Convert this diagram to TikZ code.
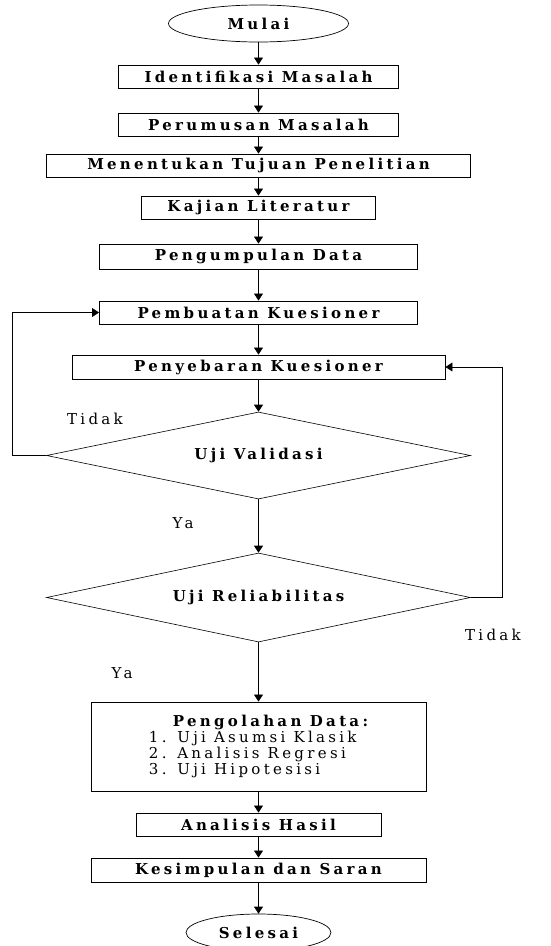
\documentclass[tikz,border=0pt]{standalone}
\usepackage{fontspec}
\setmainfont[LetterSpace=22]{DejaVu Serif}
\usetikzlibrary{arrows.meta}
\usetikzlibrary{shapes.geometric}

\tikzset{
 kotak/.style={draw, line width=0.9pt, inner sep=0pt, minimum height=23pt, font=\fontsize{15}{16}\selectfont\bfseries},
 keputusan/.style={draw, diamond, aspect=5, line width=0.6pt, inner sep=0pt, minimum width=424pt, font=\fontsize{15}{16}\selectfont\bfseries},
 terminal/.style={draw, ellipse, line width=0.7pt, inner sep=0pt, minimum height=37pt, font=\fontsize{15}{16}\selectfont\bfseries},
 ket/.style={font=\fontsize{15}{16}\selectfont}
}

\begin{document}
\begin{tikzpicture}[x=1pt, y=-1pt, >={Triangle[width=9pt,length=7pt]}, line width=0.8pt]
\useasboundingbox (0,0) rectangle (550,946);
\node[terminal, minimum width=180pt] (mulai) at (258.5,23.5) {Mulai};
\node[kotak, minimum width=280pt] (identifikasi) at (258.5,76.5) {Identifikasi Masalah};
\node[kotak, minimum width=280pt] (perumusan) at (258.5,124.5) {Perumusan Masalah};
\node[kotak, minimum width=424pt] (tujuan) at (258.5,165.5) {Menentukan Tujuan Penelitian};
\node[kotak, minimum width=234pt] (kajian) at (258.5,207.5) {Kajian Literatur};
\node[kotak, minimum width=318pt, minimum height=25pt] (pengumpulan) at (258.5,256.5) {Pengumpulan Data};
\node[kotak, minimum width=318pt] (pembuatan) at (258.5,312.5) {Pembuatan Kuesioner};
\node[kotak, minimum width=373pt, minimum height=24pt] (penyebaran) at (258.5,367) {Penyebaran Kuesioner};
\node[keputusan, minimum height=87pt] (validasi) at (258.5,455.5) {Uji Validasi};
\node[keputusan, minimum height=89pt] (reliabilitas) at (258.5,597.5) {Uji Reliabilitas};
\node[kotak, minimum width=335pt, minimum height=89pt, align=left] (pengolahan) at (258.5,746.5)
 {\hspace*{24pt}Pengolahan Data:\\ \mdseries 1. Uji Asumsi Klasik\\ \mdseries 2. Analisis Regresi\\ \mdseries 3. Uji Hipotesisi};
\node[kotak, minimum width=245pt] (analisis) at (258.5,824.5) {Analisis Hasil};
\node[kotak, minimum width=335pt, minimum height=24pt] (kesimpulan) at (258.5,870) {Kesimpulan dan Saran};
\node[terminal, minimum width=145pt] (selesai) at (258.5,932.5) {Selesai};

\foreach \a/\b in {mulai/identifikasi, identifikasi/perumusan, perumusan/tujuan, tujuan/kajian,
 kajian/pengumpulan, pengumpulan/pembuatan, pembuatan/penyebaran, penyebaran/validasi,
 validasi/reliabilitas, reliabilitas/pengolahan, pengolahan/analisis, analisis/kesimpulan,
 kesimpulan/selesai} {
 \draw[->] (\a.south) -- (\b.north);
}
\draw[->] (validasi.west) -- ++(-34,0) |- (pembuatan.west);
\draw[->] (reliabilitas.east) -- ++(32,0) |- (penyebaran.east);

\node[ket] (tidak1) at (95,419) {Tidak};
\node[ket] (ya1) at (183,523) {Ya};
\node[ket] (tidak2) at (493,635) {Tidak};
\node[ket] (ya2) at (122,673) {Ya};
\end{tikzpicture}
\end{document}
